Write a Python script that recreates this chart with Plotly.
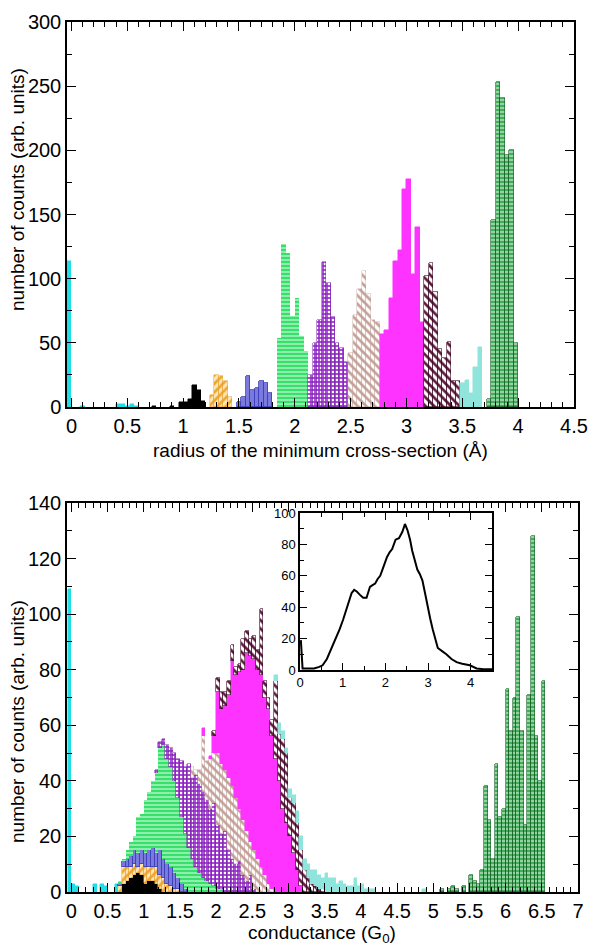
import plotly.graph_objects as go

W, H = 589, 946

# ---------------- DATA ----------------
# Top panel: histogram of the radius of the minimum cross-section, bin width 0.04 Å
R_BIN = 0.04
r_cyan_start, r_cyan = -0.04, [114, 0, 0, 1, 0, 0, 0, 0, 0, 0, 0, 2, 2, 1, 2, 1]
r_black_start, r_black = 0.72, [1, 0, 0, 0, 1, 0, 4, 4, 6, 17, 13, 5]
r_orange_start, r_orange = 1.24, [9, 25, 24, 20, 8]
r_blue_start, r_blue = 1.48, [4, 8, 24, 13, 15, 20, 19, 11]
r_green_start, r_green = 1.84, [54, 127, 120, 71, 85, 55, 44]
r_purple_start, r_purple = 2.12, [25, 50, 68, 113, 97, 70, 50, 46, 35]
r_tan_start, r_tan = 2.48, [42, 72, 92, 106, 88, 68, 66]
r_magenta_start, r_magenta = 2.76, [57, 60, 85, 114, 122, 170, 178, 104, 140, 66]
r_maroon_start, r_maroon = 3.16, [102, 112, 90, 45, 38, 51, 20, 20]
r_lcyan_start, r_lcyan = 3.48, [19, 21, 11, 31, 47]
r_dgreen_start, r_dgreen = 3.72, [6, 146, 253, 241, 196, 200, 50]

# Bottom panel: conductance histogram of the same groups (stacked), bin width 0.05 G0
C_BIN = 0.05
c_cyan_start, c_cyan = -0.05, [109, 3, 2, 0, 0, 0, 0, 3, 0, 3, 2, 0, 0, 3]
c_black_start, c_black = 0.70, [3, 4, 5, 6, 7, 6, 3, 4, 4, 3, 1]
c_orange_start, c_orange = 0.65, [2, 6, 5, 4, 4, 2, 4, 6, 5, 5, 6, 5, 5, 3, 2, 1, 1]
c_blue_start, c_blue = 0.65, [1, 2, 3, 4, 5, 5, 5, 5, 6, 7, 5, 9, 7, 7, 7, 6, 4, 3, 1]
c_green_start, c_green = 0.65, [1, 1, 3, 5, 5, 13, 13, 19, 21, 24, 29, 37, 41, 38, 36, 33,
                                29, 24, 20, 16, 12, 9, 7, 5, 4, 3, 2, 1, 1]
c_purple_start, c_purple = 1.15, [1, 2, 2, 5, 7, 10, 14, 20, 24, 30, 29, 33, 32, 31, 29, 27,
                                  30, 23, 20, 22, 15, 12, 10, 11, 6, 4, 6, 1]
c_tan_start, c_tan = 1.65, [4, 2, 5, 20, 14, 18, 18, 26, 25, 22, 26, 26, 24, 19, 20, 18,
                            12, 14, 12, 9, 6, 3, 1]
c_magenta_start, c_magenta = 1.80, [3, 0, 1, 6, 22, 20, 23, 30, 45, 44, 49, 54, 64, 67, 69,
                                    68, 69, 64, 63, 55, 48, 40, 30, 25, 20, 14, 8, 2]
c_maroon_start, c_maroon = 1.95, [2, 5, 6, 5, 5, 6, 3, 3, 11, 8, 6, 8, 7, 24, 6, 4, 6, 28,
                                  17, 25, 25, 14, 18, 17, 13, 8, 5, 3, 2, 1, 1]
c_lcyan_start, c_lcyan = 2.80, [2, 4, 3, 2, 3, 3, 4, 5, 4, 5, 5, 6, 5, 4, 7, 5, 5, 3, 4, 3,
                                2, 2, 5, 2, 3, 1, 1, 1, 0, 0, 0, 0, 0, 0, 0, 0, 0, 0, 0, 0,
                                0, 1]
c_dgreen_start, c_dgreen = 5.10, [1, 0, 1, 2, 1, 0, 2, 0, 6, 4, 3, 8, 38, 26, 12, 46, 27, 30,
                                  73, 58, 70, 99, 58, 24, 71, 128, 56, 40, 76]

# Inset: total conductance histogram (smoothed)
inset_x = [0.02, 0.06, 0.2, 0.33, 0.45, 0.53, 0.63, 0.73, 0.83, 0.93, 1.01, 1.09, 1.15, 1.21,
           1.27, 1.33, 1.4, 1.48, 1.56, 1.64, 1.7, 1.76, 1.82, 1.88, 1.96, 2.04, 2.1, 2.16,
           2.24, 2.32, 2.4, 2.46, 2.52, 2.58, 2.63, 2.69, 2.75, 2.81, 2.87, 2.93, 2.99, 3.05,
           3.11, 3.17, 3.23, 3.33, 3.43, 3.55, 3.67, 3.8, 3.98, 4.14, 4.3, 4.5]
inset_y = [19, 1, 1, 1, 2, 3, 7, 13, 19, 26, 32, 39, 45, 49, 51, 50, 48, 46, 46, 53, 54, 55,
           58, 60, 66, 72, 75, 77, 83, 84, 88, 93, 89, 83, 76, 70, 64, 61, 57, 49, 40, 33, 26,
           19, 14, 12, 10, 7, 5, 4, 3, 1, 0.5, 0.5]

# ---------------- STYLES ----------------
styles = [
    dict(color="#22dde6", line="#22dde6", lw=0.5),
    dict(color="#000000", line="#000000", lw=0.5),
    dict(color="#f2a93b", line="#e8a030", lw=0.5, shape="/", fg="#f0a530", bg="#fde7b4", size=6, sol=0.45),
    dict(color="#7a7ade", line="#3f3fb8", lw=0.8),
    dict(color="#36e06a", line="#36e06a", lw=0, shape="-", fg="#ffffff", bg="#36e06a", size=4, sol=0.22),
    dict(color="#9933cc", line="#7a22a8", lw=0.5, shape=".", fg="#ffffff", bg="#9933cc", size=4, sol=0.35),
    dict(color="#c7a49c", line="#c0a098", lw=0.4, shape="\\", fg="#c4a098", bg="#ffffff", size=6, sol=0.45),
    dict(color="#ff33ff", line="#ff33ff", lw=0.5),
    dict(color="#5c1a3c", line="#3c0a24", lw=0.6, shape="\\", fg="#5c1a3c", bg="#ffffff", size=6, sol=0.45),
    dict(color="#8fe4dc", line="#8fe4dc", lw=0.5),
    dict(color="#44ad5c", line="#0d5a1e", lw=0.6, shape="-", fg="#ffffff", bg="#44ad5c", size=4, sol=0.22),
]

r_sets = [(r_cyan_start, r_cyan), (r_black_start, r_black), (r_orange_start, r_orange),
          (r_blue_start, r_blue), (r_green_start, r_green), (r_purple_start, r_purple),
          (r_tan_start, r_tan), (r_magenta_start, r_magenta), (r_maroon_start, r_maroon),
          (r_lcyan_start, r_lcyan), (r_dgreen_start, r_dgreen)]
c_sets = [(c_cyan_start, c_cyan), (c_black_start, c_black), (c_orange_start, c_orange),
          (c_blue_start, c_blue), (c_green_start, c_green), (c_purple_start, c_purple),
          (c_tan_start, c_tan), (c_magenta_start, c_magenta), (c_maroon_start, c_maroon),
          (c_lcyan_start, c_lcyan), (c_dgreen_start, c_dgreen)]


def bar_trace(start, counts, width, st, xa, ya):
    xs, ys = [], []
    for i, c in enumerate(counts):
        if c > 0:
            xs.append(round(start + (i + 0.5) * width, 4))
            ys.append(c)
    marker = dict(color=st["color"], line=dict(color=st["line"], width=st["lw"]))
    if st.get("shape"):
        marker["pattern"] = dict(shape=st["shape"], fgcolor=st["fg"], bgcolor=st["bg"],
                                 size=st["size"], solidity=st["sol"])
    return go.Bar(x=xs, y=ys, width=width, marker=marker, xaxis=xa, yaxis=ya,
                  showlegend=False, hoverinfo="skip")


fig = go.Figure()
for (s, cnt), st in zip(r_sets, styles):
    fig.add_trace(bar_trace(s, cnt, R_BIN, st, "x", "y"))
for (s, cnt), st in zip(c_sets, styles):
    fig.add_trace(bar_trace(s, cnt, C_BIN, st, "x2", "y2"))
fig.add_trace(go.Scatter(x=inset_x, y=inset_y, mode="lines", line=dict(color="black", width=2),
                         xaxis="x3", yaxis="y3", showlegend=False, hoverinfo="skip"))

FONT = "Liberation Sans, Arial, Helvetica, sans-serif"


def ax(domain, rng, dtick, minor, anchor, fsize=20, tl=9, mtl=5):
    return dict(domain=domain, range=rng, dtick=dtick, tick0=0, anchor=anchor,
                ticks="inside", ticklen=tl, tickwidth=1.2, tickcolor="black",
                minor=dict(dtick=minor, tick0=0, ticks="inside", ticklen=mtl, tickwidth=1,
                           tickcolor="black", showgrid=False),
                showline=True, linecolor="black", linewidth=1.5, mirror="allticks",
                showgrid=False, zeroline=False, automargin=False,
                tickfont=dict(family=FONT, size=fsize, color="black"))


def px(v):
    return v / W


def py(v):
    return 1 - v / H


def title(text, x, y, angle=0):
    return dict(text=text, x=px(x), y=py(y), xref="paper", yref="paper", showarrow=False,
                xanchor="center", yanchor="middle", textangle=angle,
                font=dict(size=19, family=FONT, color="black"))


fig.update_layout(
    width=W, height=H, margin=dict(l=0, r=0, t=0, b=0),
    paper_bgcolor="white", plot_bgcolor="white", template="none",
    barmode="stack", bargap=0, showlegend=False,
    font=dict(family=FONT, color="black"),
    xaxis=ax([px(67), px(574)], [-0.04, 4.5], 0.5, 0.1, "y"),
    yaxis=ax([py(407), py(22)], [0, 300], 50, 25, "x"),
    xaxis2=ax([px(67), px(578)], [-0.06, 7], 0.5, 0.1, "y2"),
    yaxis2=ax([py(892), py(503)], [0, 140], 20, 10, "x2"),
    xaxis3=ax([px(300), px(492)], [0, 4.5], 1, 0.5, "y3", fsize=13, tl=7, mtl=4),
    yaxis3=ax([py(670), py(513)], [0, 100], 20, 10, "x3", fsize=13, tl=7, mtl=4),
    annotations=[
        title("radius of the minimum cross-section (Å)", 320, 450),
        title("number of counts (arb. units)", 17, 190, -90),
        title("conductance (G<sub>0</sub>)", 322, 934),
        title("number of counts (arb. units)", 17, 722, -90),
    ],
)

fig.write_html("out.html")
